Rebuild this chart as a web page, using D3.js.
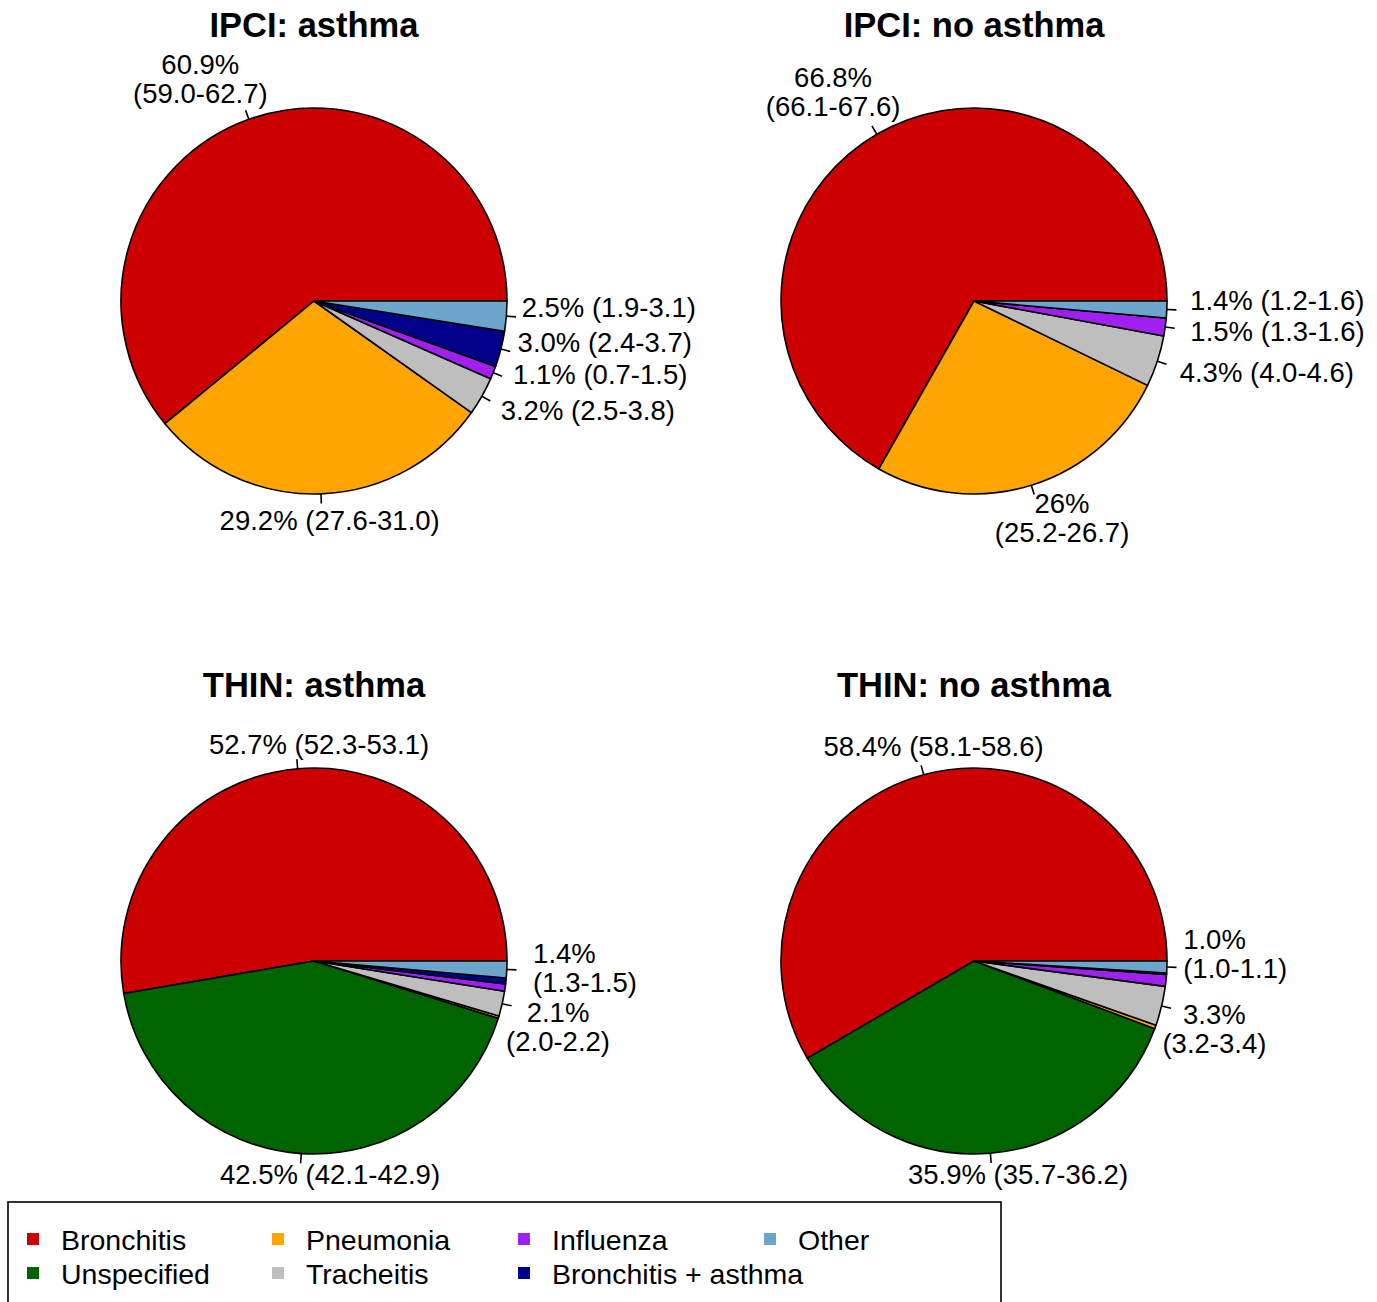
<!DOCTYPE html>
<html>
<head>
<meta charset="utf-8">
<script src="https://cdn.jsdelivr.net/npm/d3@7"></script>
<style>
  html, body { margin: 0; padding: 0; background: #fff; }
  svg { display: block; font-family: "Liberation Sans", Arial, sans-serif; }
</style>
</head>
<body>
<svg id="chart" width="1377" height="1302"></svg>
<script>
// ---------------- DATA ----------------
const categories = ["Bronchitis", "Unspecified", "Pneumonia", "Tracheitis", "Influenza", "Bronchitis + asthma", "Other"];
const categoryColors = ["#CD0000", "#006400", "#FFA500", "#BEBEBE", "#A020F0", "#00008B", "#6CA6CD"];

const panelTitles = ["IPCI: asthma", "IPCI: no asthma", "THIN: asthma", "THIN: no asthma"];

const ipciAsthma   = [60.9, 0,    29.2, 3.2, 1.1, 3.0, 2.5];
const ipciNoAsthma = [66.8, 0,    26,   4.3, 1.5, 0,   1.4];
const thinAsthma   = [52.7, 42.5, 0.2,  2.1, 0.6, 0.5, 1.4];
const thinNoAsthma = [58.4, 35.9, 0.3,  3.3, 1.0, 0.1, 1.0];

const ipciAsthmaLabels   = ["60.9%\n(59.0-62.7)", null, "29.2% (27.6-31.0)", "3.2% (2.5-3.8)", "1.1% (0.7-1.5)", "3.0% (2.4-3.7)", "2.5% (1.9-3.1)"];
const ipciNoAsthmaLabels = ["66.8%\n(66.1-67.6)", null, "26%\n(25.2-26.7)", "4.3% (4.0-4.6)", "1.5% (1.3-1.6)", null, "1.4% (1.2-1.6)"];
const thinAsthmaLabels   = ["52.7% (52.3-53.1)", "42.5% (42.1-42.9)", null, "2.1%\n(2.0-2.2)", null, null, "1.4%\n(1.3-1.5)"];
const thinNoAsthmaLabels = ["58.4% (58.1-58.6)", "35.9% (35.7-36.2)", null, "3.3%\n(3.2-3.4)", null, null, "1.0%\n(1.0-1.1)"];

const panelValues = [ipciAsthma, ipciNoAsthma, thinAsthma, thinNoAsthma];
const panelLabels = [ipciAsthmaLabels, ipciNoAsthmaLabels, thinAsthmaLabels, thinNoAsthmaLabels];

// ---------------- LAYOUT ----------------
const radius = 193;
const panelCenters = [[314, 301], [974, 301], [314, 961], [974, 961]];
const titleBaselines = [37, 37, 697, 697];
// label nudges relative to the default position (1.1 r on the slice mid-angle): [dx, dy, anchor]
const labelNudges = [
  [[-42, -23, "middle"], null, [8, 7, "middle"], [2, 4, "start"], [2, -6, "start"], [-2, -12, "start"], [-4, -11, "start"]],
  [[-34, -26, "middle"], null, [25, 14, "middle"], [4, 5, "start"], [6, 2, "start"], null, [4, -10, "start"]],
  [[23, -5, "middle"], [30, 1, "middle"], null, [37, 19, "middle"], null, null, [7, -3, "start"]],
  [[15, -10, "middle"], [26, 2, "middle"], null, [34, 18, "middle"], null, null, [-3, -14, "start"]]
];
const labelFont = 27.5;
const lineHeight = 29;

const svg = d3.select("#chart");

const pie = d3.pie().sort(null).value(d => d)
  .startAngle(Math.PI / 2)
  .endAngle(Math.PI / 2 - 2 * Math.PI);
const arc = d3.arc().innerRadius(0).outerRadius(radius);
const color = d3.scaleOrdinal().domain(categories).range(categoryColors);

panelValues.forEach((vals, p) => {
  const [cx, cy] = panelCenters[p];
  const g = svg.append("g").attr("transform", `translate(${cx},${cy})`);

  svg.append("text")
    .attr("x", cx).attr("y", titleBaselines[p])
    .attr("text-anchor", "middle")
    .attr("font-weight", "bold")
    .attr("font-size", 34.5)
    .text(panelTitles[p]);

  const arcs = pie(vals);
  g.selectAll("path.slice").data(arcs).enter().append("path")
    .attr("class", "slice")
    .attr("d", arc)
    .attr("fill", (d, i) => color(categories[i]))
    .attr("stroke", "#000")
    .attr("stroke-width", 1.6)
    .attr("stroke-linejoin", "round");

  arcs.forEach((d, i) => {
    const lab = panelLabels[p][i];
    if (!lab) return;
    const a = (d.startAngle + d.endAngle) / 2;
    const sx = Math.sin(a), sy = -Math.cos(a);
    g.append("line")
      .attr("x1", radius * sx).attr("y1", radius * sy)
      .attr("x2", 1.05 * radius * sx).attr("y2", 1.05 * radius * sy)
      .attr("stroke", "#000").attr("stroke-width", 1.6);
    const nd = labelNudges[p][i];
    const lx = 1.1 * radius * sx + nd[0];
    const ly = 1.1 * radius * sy + nd[1];
    const lines = lab.split("\n");
    const t = g.append("text")
      .attr("text-anchor", nd[2])
      .attr("font-size", labelFont)
      .attr("fill", "#000");
    const y0 = ly - (lines.length - 1) * lineHeight / 2 + labelFont * 0.36;
    lines.forEach((ln, k) => {
      t.append("tspan").attr("x", lx).attr("y", y0 + k * lineHeight).text(ln);
    });
  });
});

// ---------------- LEGEND ----------------
const legendBox = { x: 8, y: 1202, w: 993, h: 120 };
svg.append("rect")
  .attr("x", legendBox.x).attr("y", legendBox.y)
  .attr("width", legendBox.w).attr("height", legendBox.h)
  .attr("fill", "none").attr("stroke", "#000").attr("stroke-width", 1.6);

const legendColX = [27, 272, 518, 764];
const legendRowY = [1239, 1273];
categories.forEach((c, i) => {
  const col = Math.floor(i / 2), row = i % 2;
  const x = legendColX[col], y = legendRowY[row];
  svg.append("rect")
    .attr("x", x).attr("y", y - 6)
    .attr("width", 12).attr("height", 12)
    .attr("fill", color(c));
  svg.append("text")
    .attr("x", x + 34).attr("y", y + 10.5)
    .attr("font-size", 28.5)
    .text(c);
});
</script>
</body>
</html>
